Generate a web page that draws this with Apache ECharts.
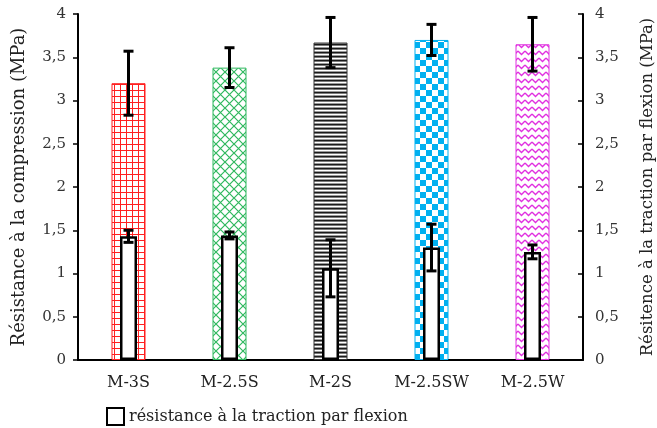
<!DOCTYPE html>
<html>
<head>
<meta charset="utf-8">
<script src="https://cdn.jsdelivr.net/npm/echarts@6/dist/echarts.min.js"></script>
<style>
  html, body { margin: 0; padding: 0; background: #fff; }
  #chart { width: 657px; height: 428px; }
</style>
</head>
<body>
<div id="chart"></div>
<script>
// données
var categories = ['M-3S', 'M-2.5S', 'M-2S', 'M-2.5SW', 'M-2.5W'];
var compression = [3.2, 3.38, 3.67, 3.7, 3.65];
var compressionErr = [0.37, 0.23, 0.29, 0.18, 0.31];
var flexion = [1.43, 1.44, 1.06, 1.3, 1.25];
var flexionErr = [0.07, 0.04, 0.33, 0.27, 0.08];
var yTicks = [0, 0.5, 1, 1.5, 2, 2.5, 3, 3.5, 4];

var FONT = '"DejaVu Serif", "Liberation Serif", serif';

// motifs de remplissage
function makeTile(w, h, draw) {
  var c = document.createElement('canvas');
  c.width = w;
  c.height = h;
  var ctx = c.getContext('2d');
  ctx.fillStyle = '#fff';
  ctx.fillRect(0, 0, w, h);
  draw(ctx);
  return c;
}
var tileGrid = makeTile(6, 6, function (ctx) {
  ctx.fillStyle = '#ff2020';
  ctx.fillRect(0, 0, 6, 1);
  ctx.fillRect(0, 0, 1, 6);
});
var tileDiamond = makeTile(9, 9, function (ctx) {
  ctx.strokeStyle = '#2fb85e';
  ctx.lineWidth = 1.2;
  ctx.beginPath();
  ctx.moveTo(0, 0); ctx.lineTo(9, 9);
  ctx.moveTo(9, 0); ctx.lineTo(0, 9);
  ctx.stroke();
});
var tileStripes = makeTile(2, 4, function (ctx) {
  ctx.fillStyle = '#1a1a1a'; ctx.fillRect(0, 0, 2, 1);
  ctx.fillStyle = '#7a7a7a'; ctx.fillRect(0, 1, 2, 1);
  ctx.fillStyle = '#ffffff'; ctx.fillRect(0, 2, 2, 1);
  ctx.fillStyle = '#9a9a9a'; ctx.fillRect(0, 3, 2, 1);
});
var tileChecker = makeTile(12, 12, function (ctx) {
  ctx.fillStyle = '#00b0f0';
  ctx.fillRect(0, 0, 6, 6);
  ctx.fillRect(6, 6, 6, 6);
});
var tileZigzag = makeTile(7, 7, function (ctx) {
  ctx.strokeStyle = '#e030e0';
  ctx.lineWidth = 1.3;
  ctx.beginPath();
  ctx.moveTo(0, 2); ctx.lineTo(3.5, 5.5); ctx.lineTo(7, 2);
  ctx.stroke();
});

var patterns = [tileGrid, tileDiamond, tileStripes, tileChecker, tileZigzag];
var borders = ['#ff2020', '#2fb85e', '#333333', '#00b0f0', '#e030e0'];

var compData = compression.map(function (v, i) {
  return {
    value: v,
    itemStyle: {
      color: { image: patterns[i], repeat: 'repeat' },
      borderColor: borders[i],
      borderWidth: 1
    }
  };
});

function errorItem(errs) {
  return function (params, api) {
    var x = api.value(0);
    var v = api.value(1);
    var e = errs[params.dataIndex];
    var top = api.coord([x, v + e]);
    var bot = api.coord([x, v - e]);
    var hw = 5;
    var st = { stroke: '#000', lineWidth: 3 };
    return {
      type: 'group',
      children: [
        { type: 'line', shape: { x1: top[0], y1: top[1], x2: bot[0], y2: bot[1] }, style: st },
        { type: 'line', shape: { x1: top[0] - hw, y1: top[1], x2: top[0] + hw, y2: top[1] }, style: st },
        { type: 'line', shape: { x1: bot[0] - hw, y1: bot[1], x2: bot[0] + hw, y2: bot[1] }, style: st }
      ]
    };
  };
}

var yLabel = {
  color: '#333',
  fontFamily: FONT,
  fontSize: 15,
  margin: 12,
  formatter: function (v) { return String(v).replace('.', ','); }
};

var option = {
  animation: false,
  grid: { left: 78, right: 74, top: 14, bottom: 68, outerBoundsMode: 'none', containLabel: false },
  legend: {
    left: 101,
    top: 402,
    itemWidth: 17,
    itemHeight: 17,
    itemGap: 6,
    data: [{ name: 'résistance à la traction par flexion', icon: 'rect' }],
    textStyle: { color: '#222', fontFamily: FONT, fontSize: 16 }
  },
  xAxis: [
    {
      type: 'category',
      data: categories,
      axisLine: { lineStyle: { color: '#000', width: 2 } },
      axisTick: { alignWithLabel: true, length: 5, lineStyle: { color: '#000', width: 1.5 } },
      axisLabel: { color: '#222', fontFamily: FONT, fontSize: 16, margin: 15 }
    },
    {
      type: 'category',
      data: categories,
      show: false,
      position: 'bottom'
    }
  ],
  yAxis: [
    {
      type: 'value',
      min: 0,
      max: 4,
      interval: 0.5,
      name: 'Résistance à la compression (MPa)',
      nameLocation: 'middle',
      nameGap: 50,
      nameTextStyle: { color: '#222', fontFamily: FONT, fontSize: 18 },
      axisLine: { show: true, lineStyle: { color: '#000', width: 2 } },
      axisTick: { show: true, length: 5, lineStyle: { color: '#000', width: 1.5 } },
      axisLabel: yLabel,
      splitLine: { show: false }
    },
    {
      type: 'value',
      min: 0,
      max: 4,
      interval: 0.5,
      position: 'right',
      name: 'Résitence à la traction par flexion (MPa)',
      nameLocation: 'middle',
      nameGap: 56,
      nameRotate: 90,
      nameTextStyle: { color: '#222', fontFamily: FONT, fontSize: 16.5 },
      axisLine: { show: true, lineStyle: { color: '#000', width: 2 } },
      axisTick: { show: true, inside: true, length: 5, lineStyle: { color: '#000', width: 1.5 } },
      axisLabel: yLabel,
      splitLine: { show: false }
    }
  ],
  series: [
    {
      name: 'compression',
      type: 'bar',
      xAxisIndex: 0,
      yAxisIndex: 0,
      barWidth: 34,
      data: compData,
      z: 2
    },
    {
      name: 'compErr',
      type: 'custom',
      xAxisIndex: 0,
      yAxisIndex: 0,
      renderItem: errorItem(compressionErr),
      data: compression.map(function (v, i) { return [i, v]; }),
      z: 3
    },
    {
      name: 'résistance à la traction par flexion',
      type: 'bar',
      xAxisIndex: 1,
      yAxisIndex: 1,
      barWidth: 17,
      itemStyle: { color: '#fff', borderColor: '#000', borderWidth: 2.5 },
      data: flexion,
      z: 4
    },
    {
      name: 'flexErr',
      type: 'custom',
      xAxisIndex: 1,
      yAxisIndex: 1,
      renderItem: errorItem(flexionErr),
      data: flexion.map(function (v, i) { return [i, v]; }),
      z: 5
    }
  ]
};

var chart = echarts.init(document.getElementById('chart'));
chart.setOption(option);
</script>
</body>
</html>
